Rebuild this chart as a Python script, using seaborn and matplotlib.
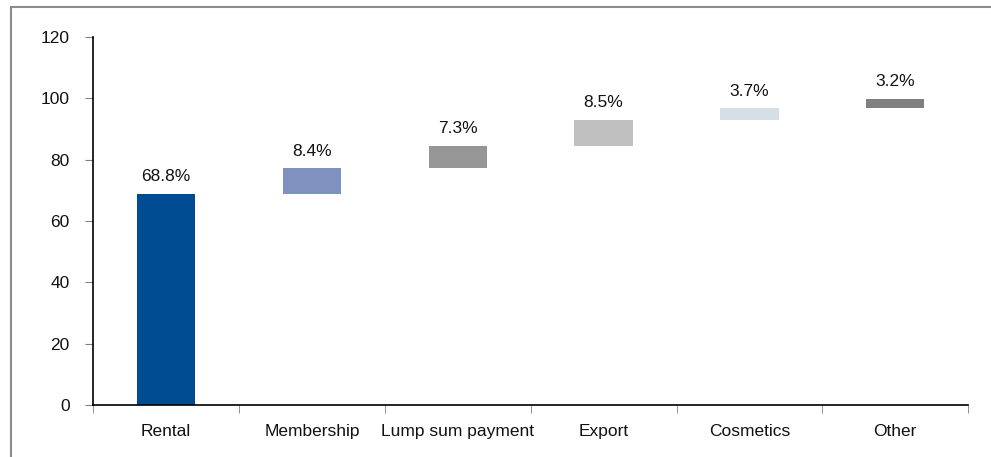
import matplotlib
matplotlib.use("Agg")
import matplotlib.pyplot as plt
from matplotlib.lines import Line2D
import seaborn as sns
import pandas as pd
import numpy as np

categories = ["Rental", "Membership", "Lump sum payment", "Export", "Cosmetics", "Other"]
shares = [68.8, 8.4, 7.3, 8.5, 3.7, 3.2]
colors = ["#004C92", "#7F91BE", "#969696", "#C0C0C0", "#D6DEE6", "#808080"]
y_ticks = [0, 20, 40, 60, 80, 100, 120]

# waterfall: each bar starts where the previous one ended
bases = list(np.concatenate([[0], np.cumsum(shares)[:-1]]))
df = pd.DataFrame({"category": categories, "share": shares, "base": bases})

sns.set_style("white")
plt.rcParams["font.family"] = ["Liberation Sans", "DejaVu Sans"]

fig = plt.figure(figsize=(9.91, 4.57), dpi=100)
ax = fig.add_axes([0.094, 0.114, 0.883, 0.805])

for i, row in df.iterrows():
    sns.barplot(data=df.iloc[[i]], x="category", y="share", order=categories,
                color=colors[i], bottom=row["base"], width=0.4,
                saturation=1, linewidth=0, ax=ax)

for i, (s, b) in enumerate(zip(shares, bases)):
    ax.annotate(f"{s:.1f}%", xy=(i, s + b), xytext=(0, 7),
                textcoords="offset points", ha="center", va="bottom",
                fontsize=12.5, color="#111111")

ax.set_xlim(-0.5, len(categories) - 0.5)
ax.set_ylim(0, 120)
ax.set_yticks(y_ticks)
ax.set_xlabel("")
ax.set_ylabel("")

for side in ["top", "right"]:
    ax.spines[side].set_visible(False)
for side in ["left", "bottom"]:
    ax.spines[side].set_color("black")
    ax.spines[side].set_linewidth(1.2)

ax.tick_params(axis="y", which="major", left=True, direction="out", length=6,
               color="#808080", labelsize=12.5, labelcolor="#111111", pad=11)
ax.tick_params(axis="x", which="major", length=0, labelsize=12.5,
               labelcolor="#111111", pad=14)
ax.set_xticks(np.arange(-0.5, len(categories)), minor=True)
ax.tick_params(axis="x", which="minor", bottom=True, direction="out", length=6,
               color="#808080")

# outer frame lines (top and left)
fig.add_artist(Line2D([0.0106, 1.0], [0.984, 0.984], transform=fig.transFigure,
                      color="#8C8C8C", linewidth=1.5))
fig.add_artist(Line2D([0.0106, 0.0106], [0.0, 0.984], transform=fig.transFigure,
                      color="#8C8C8C", linewidth=1.5))

fig.savefig("out.png", dpi=100)
